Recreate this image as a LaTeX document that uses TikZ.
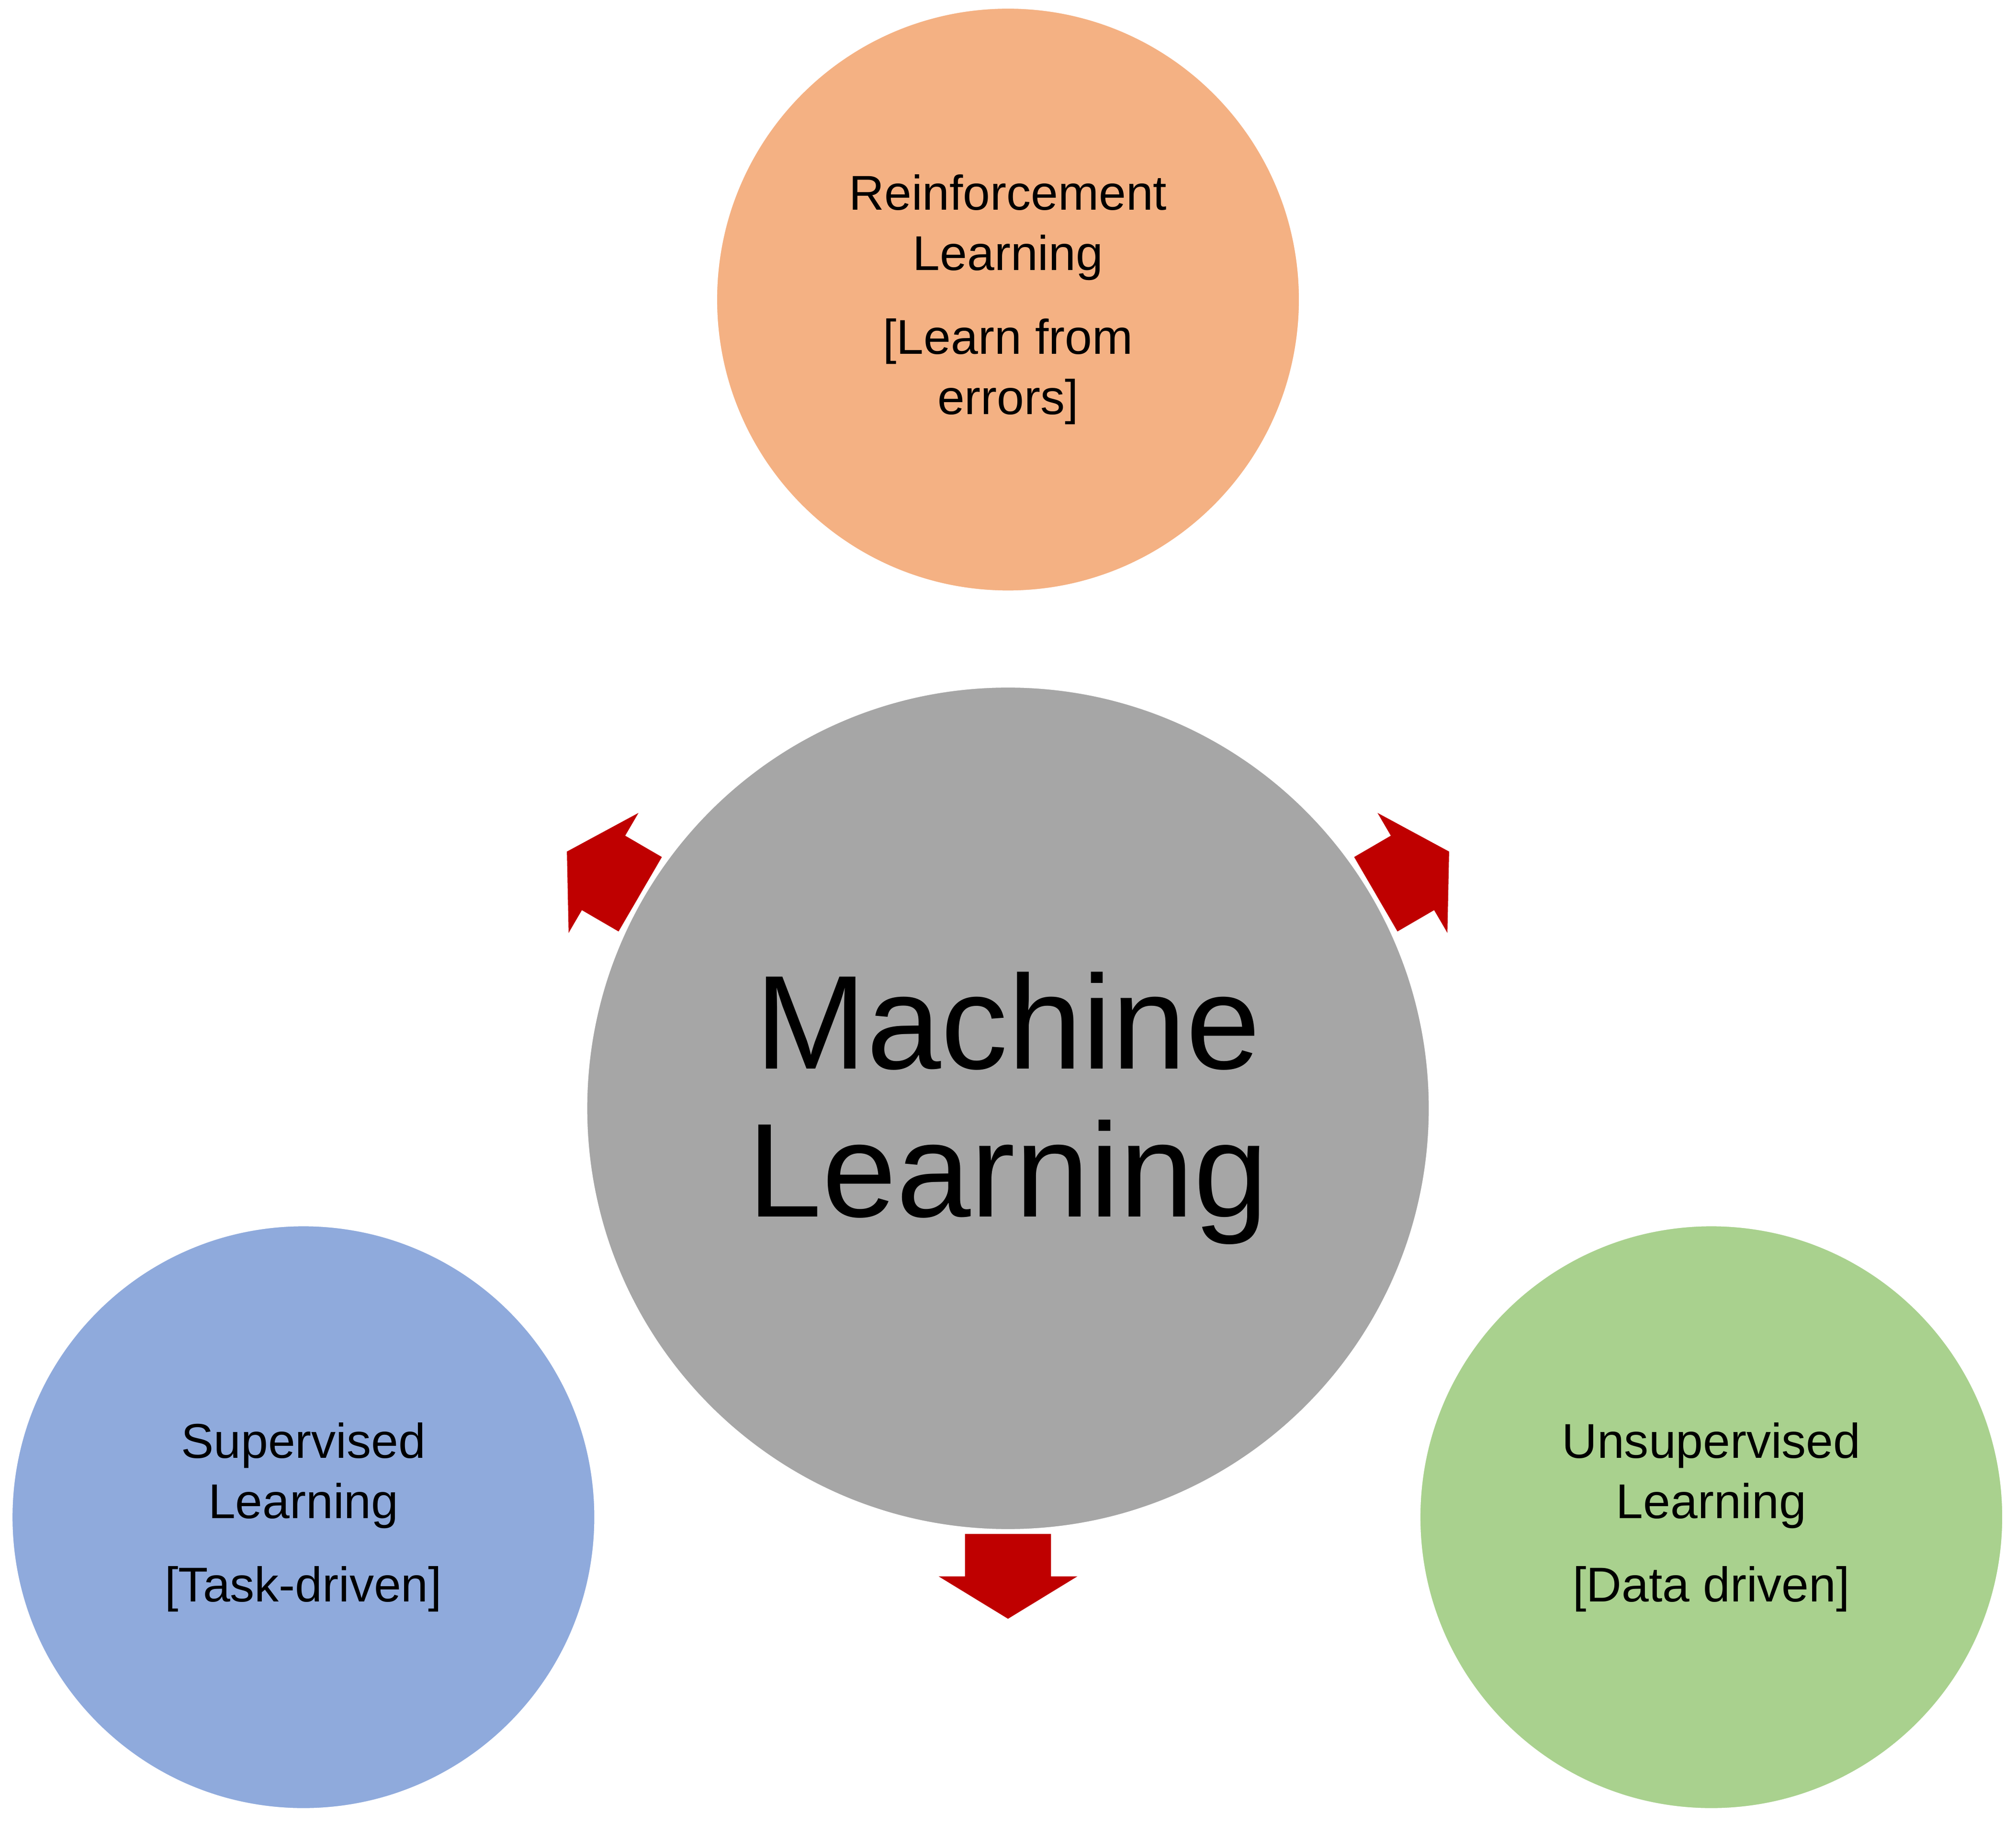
\documentclass[tikz,border=0pt]{standalone}
\usepackage{fontspec}
\setmainfont{Liberation Sans}
\begin{document}
\begin{tikzpicture}[x=1pt,y=-1pt,
  circ/.style={circle,draw=white,line width=1.5pt,inner sep=0pt,align=center},
  small/.style={font=\fontsize{38}{47}\selectfont},
  blk/.style={fill=red!75!black,draw=none}]
\useasboundingbox (0,0) rectangle (1568,1420);
\node[circ,fill=black!35,minimum size=656pt,font=\fontsize{104}{115}\selectfont] (c) at (784,862) {Machine\\Learning};
\node[circ,fill=orange!55!white,fill={rgb,255:red,244;green,177;blue,131},minimum size=454pt,small] (t) at (784,233) {Reinforcement\\Learning\\[18pt][Learn from\\errors]};
\node[circ,fill={rgb,255:red,143;green,170;blue,220},minimum size=454pt,small] (l) at (236,1180) {Supervised\\Learning\\[18pt][Task-driven]};
\node[circ,fill={rgb,255:red,169;green,209;blue,142},minimum size=454pt,small] (r) at (1331,1180) {Unsupervised\\Learning\\[18pt][Data driven]};
\foreach \a in {-90,149.8,30.2}{
  \begin{scope}[shift={(c.center)},rotate=\a]
    \fill[blk] (331,-33.5) -- (364,-33.5) -- (364,-54) -- (397,0) -- (364,54) -- (364,33.5) -- (331,33.5) -- cycle;
  \end{scope}}
\end{tikzpicture}
\end{document}
